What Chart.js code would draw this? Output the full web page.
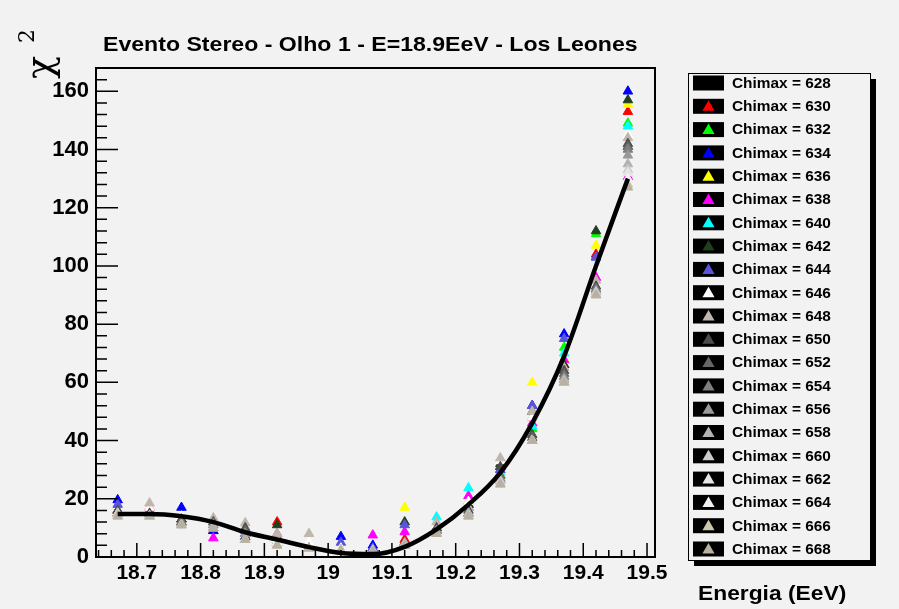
<!DOCTYPE html>
<html>
<head>
<meta charset="utf-8">
<script src="https://cdn.jsdelivr.net/npm/chart.js@4.4.0/dist/chart.umd.min.js"></script>
<style>
  html, body { margin: 0; padding: 0; background: #f2f2f2; }
</style>
</head>
<body>
<canvas id="chi2-chart" width="899" height="609"></canvas>
<script>
// Energy values (EeV) where chi2 was evaluated
const energies = [18.67, 18.72, 18.77, 18.82, 18.87, 18.92, 18.97, 19.02, 19.07, 19.12, 19.17, 19.22, 19.27, 19.32, 19.37, 19.42, 19.47];

// Chi2 per Chimax value (628 is drawn as the smooth black curve)
const chi628 = [14.8, 14.8, 14, 12, 8.5, 6, 3.4, 1.4, 1, 3.5, 9.5, 18, 29, 46, 69, 100, 130];
const chi630 = [16, 17, 13, 9, 8, 12, 4, 2, 3, 6, 10, 19, 30, 48, 66, 104, 153];
const chi632 = [15, 16, 11.7, 10, 7, 5, 3, 2, 2.5, 4, 9, 17, 28, 44, 72, 111, 149];
const chi634 = [19.6, 15, 17, 9, 7, 6, 3, 7, 4, 5, 9, 18, 31, 52, 76.6, 103, 160];
const chi636 = [16, 15, 12, 10, 7, 6, 3, 3, 2, 17, 10, 19, 28, 60, 68, 107, 155.5];
const chi638 = [15, 16, 12, 6.5, 7, 8, 3, 2, 7.5, 8.6, 9, 21, 31, 46, 67.7, 96, 130.6];
const chi640 = [15, 15, 12, 10, 7, 6, 3, 2, 2, 4, 13.7, 23.7, 29, 45, 70, 100, 148];
const chi642 = [16, 15, 13, 10, 8, 11, 4, 2, 2, 12, 10, 18, 32, 50, 66, 112, 157];
const chi644 = [18, 15, 13, 10, 7, 7, 3, 5, 3, 11, 10, 17, 30, 52, 75, 103, 141];
const chi646 = [15, 17, 14, 12, 9, 6, 5, 3, 2, 4, 11, 19, 33, 48, 64, 100, 145];
const chi648 = [15, 18.5, 12, 13.4, 11.7, 8, 8, 2.4, 2, 4, 12, 17, 34, 50, 65, 95, 144];
const chi650 = [16, 15, 13, 12, 10, 5, 3, 2, 2, 4, 10, 16, 31, 42, 64, 93, 142];
const chi652 = [15, 14, 12, 12, 9, 5, 3, 2, 2, 5, 9, 15, 28, 41, 63, 92, 141];
const chi654 = [15, 14, 12, 11, 8, 5, 3, 2, 2, 4, 9, 15, 27, 40, 62, 92, 140];
const chi656 = [15, 14, 11, 11, 8, 5, 3, 2, 2, 4, 9, 15, 26.5, 40, 61, 91, 138];
const chi658 = [15, 14, 11, 10, 6, 4.8, 3, 2.4, 2.4, 4.8, 8, 15, 26, 40, 61, 91, 135];
const chi660 = [15, 14, 11, 10, 6, 5, 3, 2, 2, 4, 8, 14, 26, 40, 60, 91, 133];
const chi662 = [14, 14, 11, 10, 6, 5, 3, 2, 2, 4, 8, 14, 25, 40, 60, 90, 132];
const chi664 = [14, 14, 11, 10, 6, 5, 3, 2, 2, 4, 8, 14, 25, 40, 60, 90, 130];
const chi666 = [14, 14, 11, 10, 6, 4, 3, 2, 2, 4, 8, 14, 25, 40, 60, 90, 128];
const chi668 = [14, 14, 11, 10, 6, 4, 3, 2, 2, 4, 8, 14, 25, 40, 60, 90, 127];

const chimaxValues = [628, 630, 632, 634, 636, 638, 640, 642, 644, 646, 648, 650, 652, 654, 656, 658, 660, 662, 664, 666, 668];
const seriesValues = [chi628, chi630, chi632, chi634, chi636, chi638, chi640, chi642, chi644, chi646, chi648,
    chi650, chi652, chi654, chi656, chi658, chi660, chi662, chi664, chi666, chi668];

// ROOT colour indices 1..21
const seriesColors = ['#000000', '#ff0000', '#00ff00', '#0000ff', '#ffff00', '#ff00ff', '#00ffff', '#1f3f1f',
    '#5954d9', '#ffffff', '#c0b6ac', '#4c4c4c', '#666666', '#7f7f7f', '#999999', '#b2b2b2', '#cccccc',
    '#e5e5e5', '#f2f2f2', '#ccc6aa', '#b8b0a0'];

const xTickValues = [18.7, 18.8, 18.9, 19.0, 19.1, 19.2, 19.3, 19.4, 19.5];
const yTickValues = [0, 20, 40, 60, 80, 100, 120, 140, 160];

const FONT = '"Liberation Sans", Arial, Helvetica, sans-serif';

/**
 * Draw text stretched horizontally (ROOT fonts are a bit wider than Arial)
 */
function drawWideText(ctx, text, x, y, font, stretch) {
    ctx.save();
    ctx.font = font;
    ctx.translate(x, y);
    ctx.scale(stretch, 1);
    ctx.fillText(text, 0, 0);
    ctx.restore();
}

function drawTriangle(ctx, x, y, r, color) {
    ctx.beginPath();
    ctx.moveTo(x, y - r);
    ctx.lineTo(x + r * 0.866, y + r * 0.5);
    ctx.lineTo(x - r * 0.866, y + r * 0.5);
    ctx.closePath();
    ctx.fillStyle = color;
    ctx.fill();
}

// ROOT-like frame, inward ticks, titles and legend box
const rootStyle = {
    id: 'rootStyle',
    beforeDraw(chart) {
        const ctx = chart.ctx;
        ctx.save();
        ctx.fillStyle = '#f2f2f2';
        ctx.fillRect(0, 0, chart.width, chart.height);
        ctx.restore();
    },
    afterDraw(chart) {
        const ctx = chart.ctx;
        const area = chart.chartArea;
        const xs = chart.scales.x;
        const ys = chart.scales.y;
        ctx.save();

        // frame
        ctx.strokeStyle = '#000';
        ctx.lineWidth = 2;
        ctx.strokeRect(area.left, area.top, area.right - area.left, area.bottom - area.top);

        // x ticks (minor every 0.02)
        ctx.lineWidth = 1.5;
        ctx.beginPath();
        for (let k = 932; k <= 975; k++) {
            const px = xs.getPixelForValue(k * 0.02);
            if (px < area.left || px > area.right) continue;
            const len = k % 5 === 0 ? 14 : 7;
            ctx.moveTo(px, area.bottom);
            ctx.lineTo(px, area.bottom - len);
        }
        // y ticks (minor every 4)
        for (let v = 0; v <= 168; v += 4) {
            const py = ys.getPixelForValue(v);
            if (py < area.top) continue;
            const len = v % 20 === 0 ? 22 : 11;
            ctx.moveTo(area.left, py);
            ctx.lineTo(area.left + len, py);
        }
        ctx.stroke();

        // titles
        ctx.fillStyle = '#000';
        ctx.textBaseline = 'alphabetic';
        ctx.textAlign = 'left';
        drawWideText(ctx, 'Evento Stereo - Olho 1 - E=18.9EeV - Los Leones', 103, 51, 'bold 21px ' + FONT, 1.1);
        drawWideText(ctx, 'Energia (EeV)', 698, 600, 'bold 20px ' + FONT, 1.14);

        // chi^2 axis title, rotated
        ctx.save();
        ctx.translate(52, 79);
        ctx.rotate(-Math.PI / 2);
        ctx.font = '38px "DejaVu Serif", serif';
        ctx.fillText('\u03c7', 0, 0);
        ctx.font = '22px "DejaVu Serif", serif';
        ctx.fillText('2', 36, -18);
        ctx.restore();

        // legend box with shadow
        const lx = 688, ly = 73, lw = 182, lh = 487;
        ctx.fillStyle = '#000';
        ctx.fillRect(lx + 6, ly + 6, lw, lh);
        ctx.fillStyle = '#f2f2f2';
        ctx.fillRect(lx, ly, lw, lh);
        ctx.strokeStyle = '#000';
        ctx.lineWidth = 1;
        ctx.strokeRect(lx + 0.5, ly + 0.5, lw, lh);

        chimaxValues.forEach((cm, i) => {
            const ry = 83 + i * 23.3;
            ctx.fillStyle = '#000';
            ctx.fillRect(693, ry - 7.5, 31, 15);
            if (i > 0) drawTriangle(ctx, 708.5, ry + 1, 7, seriesColors[i]);
            ctx.fillStyle = '#000';
            ctx.textBaseline = 'middle';
            drawWideText(ctx, 'Chimax = ' + cm, 732, ry + 1, 'bold 14px ' + FONT, 1.1);
        });
        ctx.restore();
    }
};

const datasets = seriesValues.map((vals, i) => {
    const points = energies.map((e, k) => ({ x: e, y: vals[k] }));
    if (i === 0) {
        return {
            label: 'Chimax = ' + chimaxValues[i],
            data: points,
            showLine: true,
            borderColor: '#000',
            borderWidth: 4.5,
            pointRadius: 0,
            cubicInterpolationMode: 'monotone',
            order: 0
        };
    }
    return {
        label: 'Chimax = ' + chimaxValues[i],
        data: points,
        showLine: false,
        pointStyle: 'triangle',
        pointRadius: 5.5,
        backgroundColor: seriesColors[i],
        borderColor: seriesColors[i],
        borderWidth: 1,
        order: 100 - i
    };
});

new Chart(document.getElementById('chi2-chart'), {
    type: 'scatter',
    data: { datasets },
    options: {
        responsive: false,
        animation: false,
        layout: { padding: { left: 0, top: 68, right: 244, bottom: 0 } },
        plugins: {
            legend: { display: false },
            tooltip: { enabled: false }
        },
        scales: {
            x: {
                type: 'linear',
                min: 18.636,
                max: 19.5125,
                grid: { display: false, drawTicks: false },
                border: { display: false },
                afterBuildTicks: s => { s.ticks = xTickValues.map(v => ({ value: v })); },
                afterFit: s => { s.height = 52; },
                ticks: {
                    color: '#000',
                    padding: 4,
                    font: { family: FONT, size: 21, weight: 'bold' },
                    callback: v => String(Math.round(v * 10) / 10)
                }
            },
            y: {
                type: 'linear',
                min: 0,
                max: 168,
                grid: { display: false, drawTicks: false },
                border: { display: false },
                afterBuildTicks: s => { s.ticks = yTickValues.map(v => ({ value: v })); },
                afterFit: s => { s.width = 96; },
                ticks: {
                    color: '#000',
                    padding: 7,
                    font: { family: FONT, size: 22, weight: 'bold' }
                }
            }
        }
    },
    plugins: [rootStyle]
});
</script>
</body>
</html>
